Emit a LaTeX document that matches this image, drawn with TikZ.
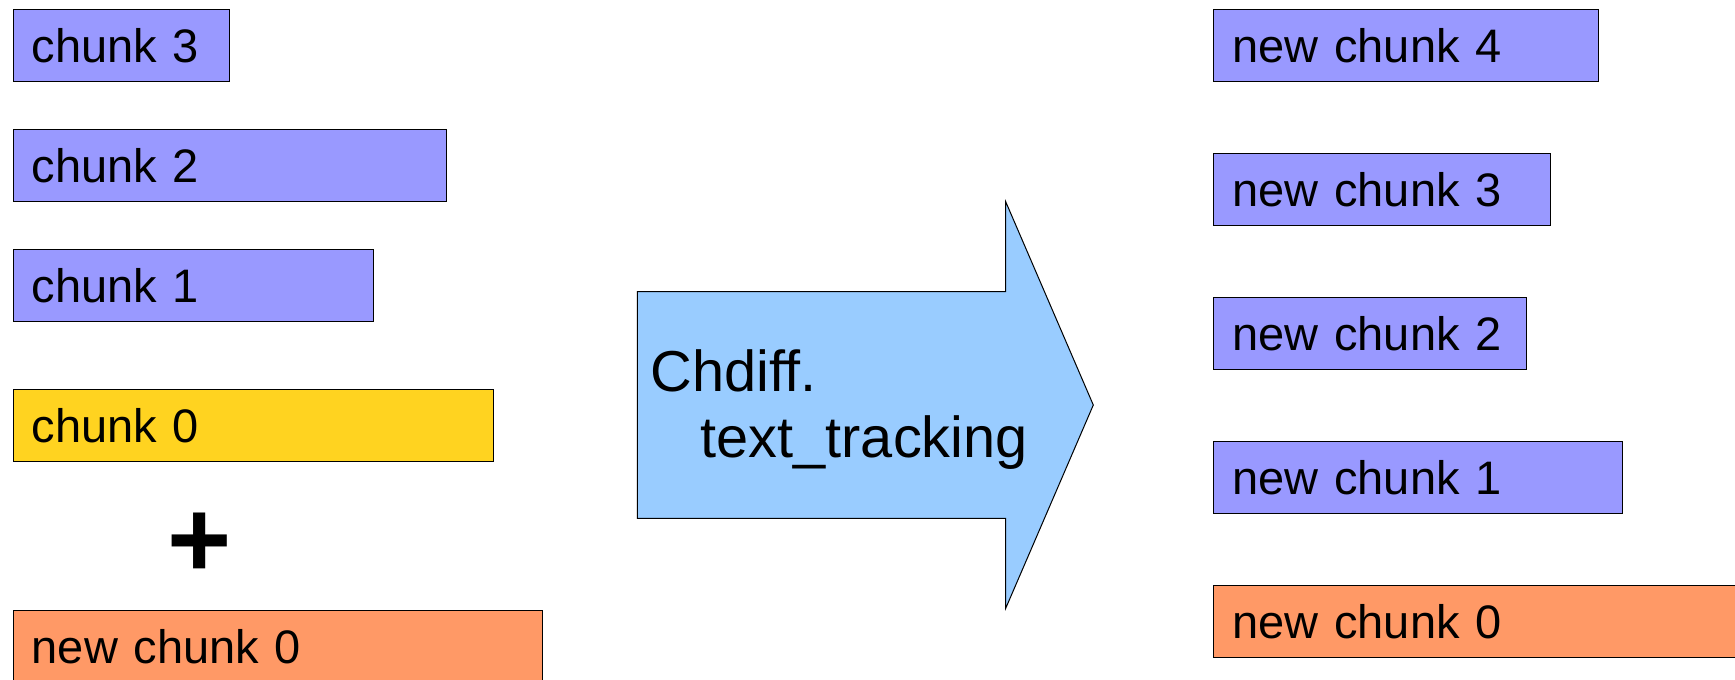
\documentclass[tikz,border=0pt]{standalone}
\usepackage{fontspec}
\setmainfont{Liberation Sans}

\definecolor{chunkblue}{HTML}{9999FF}
\definecolor{chunkyellow}{HTML}{FFD320}
\definecolor{chunkorange}{HTML}{FF9966}
\definecolor{arrowblue}{HTML}{99CCFF}

\tikzset{every picture/.style={line width=0.75pt}}
\tikzset{
  chunk/.style={draw=black, anchor=north west, minimum height=54pt, inner xsep=14pt, inner ysep=0pt,
    text width=#1, align=left, font=\fontsize{35.25pt}{40pt}\selectfont},
  oldchunk/.style={chunk=#1, fill=chunkblue},
  curchunk/.style={chunk=#1, fill=chunkyellow},
  addchunk/.style={chunk=#1, fill=chunkorange}
}

\begin{document}
\begin{tikzpicture}[x=0.75pt,y=0.75pt,yscale=-1,xscale=1]
      \useasboundingbox (0,0) rectangle (1735,679);
      \clip (0,0) rectangle (1735,679);

      %Left column: old chunks
      \node[oldchunk=134.5pt] (c3) at (12.7,9) {chunk 3};
      \node[oldchunk=296.8pt] (c2) at (12.7,129) {chunk 2};
      \node[oldchunk=242.5pt] (c1) at (12.7,249) {chunk 1};
      \node[curchunk=332.2pt] (c0) at (12.7,389) {chunk 0};
      % Text Node
      \node[font=\fontsize{82.5pt}{84pt}\selectfont\bfseries, inner sep=0pt] (plus) at (200,545) {+};
      \node[addchunk=368.7pt] (nc0in) at (12.7,610) {new chunk 0};

      %Shape: Right Arrow
      \draw[fill=arrowblue] (637.3,291.7) -- (1005.7,291.7) -- (1005.7,201.7) -- (1093.3,405) -- (1005.7,608.3) -- (1005.7,518.3) -- (637.3,518.3) -- cycle ;
      % Text Node
      \node[anchor=base west, inner sep=0pt, align=left, font=\fontsize{43.3pt}{49.5pt}\selectfont] (tool) at (650,457.7) {Chdiff.\\\hspace*{37.5pt}text\_tracking};

      %Right column: new chunks
      \node[oldchunk=260.3pt] (n4) at (1213.3,9) {new chunk 4};
      \node[oldchunk=224.4pt] (n3) at (1213.3,153.3) {new chunk 3};
      \node[oldchunk=206.4pt] (n2) at (1213.3,296.7) {new chunk 2};
      \node[oldchunk=278.3pt] (n1) at (1213.3,441) {new chunk 1};
      \node[addchunk=392pt] (n0) at (1213.3,585.3) {new chunk 0};
\end{tikzpicture}
\end{document}
